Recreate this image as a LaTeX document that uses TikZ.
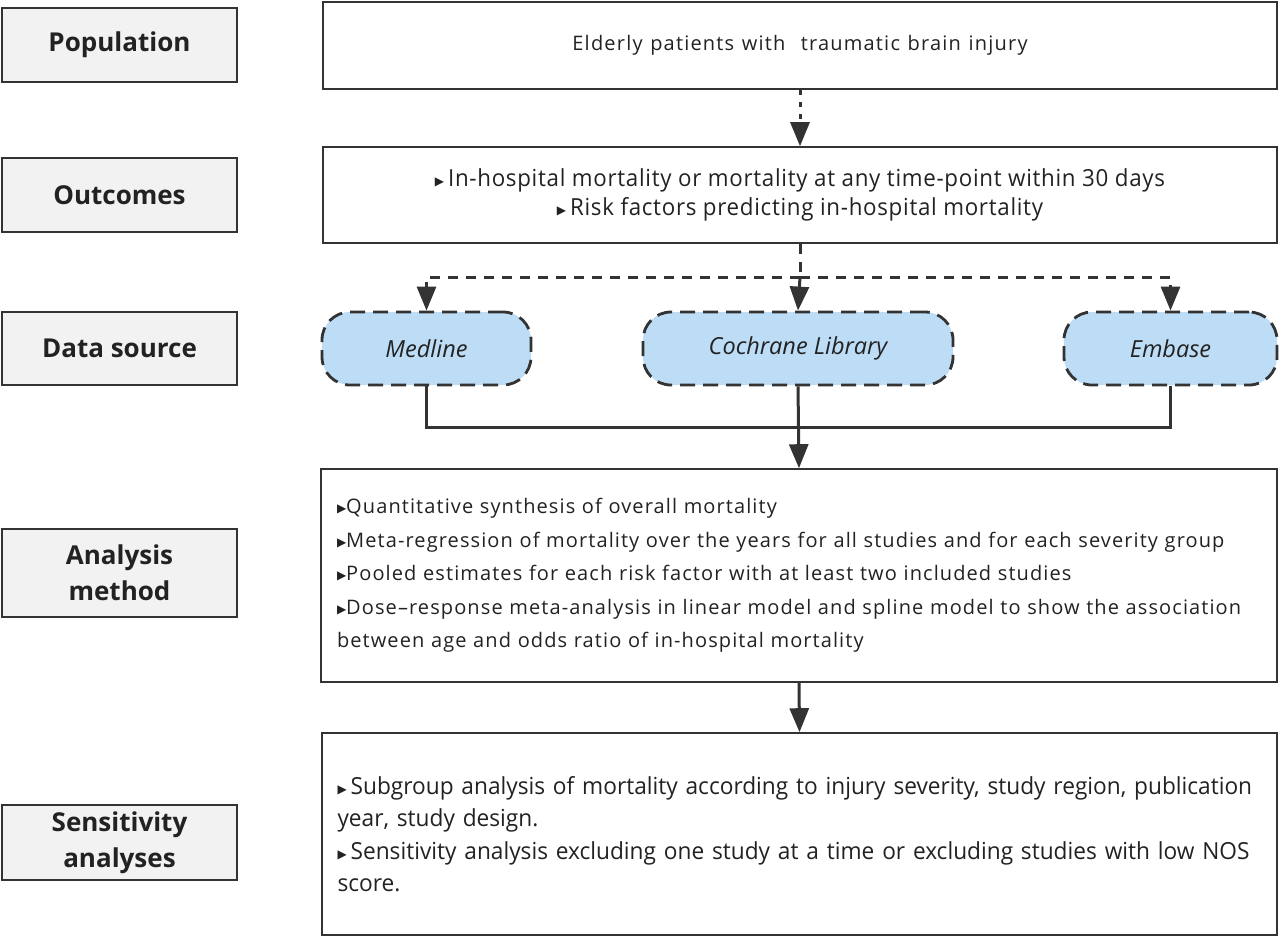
\documentclass[tikz,border=0pt]{standalone}
\usepackage{fontspec}
\setmainfont{Open Sans}
\newfontfamily\topfont[LetterSpace=6,WordSpace=1.2]{Open Sans}
\newfontfamily\anafont[LetterSpace=5.5,WordSpace=1.25]{Open Sans}
\newfontfamily\outfont[FakeStretch=0.95,LetterSpace=3]{Open Sans}
\newfontfamily\senfont[FakeStretch=0.965]{Open Sans}
\newfontfamily\bulletfont{DejaVu Sans}
\usetikzlibrary{arrows.meta}
\definecolor{lc}{HTML}{333333}
\definecolor{lblfill}{HTML}{F2F2F2}
\definecolor{pillfill}{HTML}{BDDCF5}
\definecolor{txt}{HTML}{222222}
\newcommand{\bul}{{\bulletfont\fontsize{12}{12}\selectfont\raisebox{1pt}{▶}}}
\begin{document}
\begin{tikzpicture}[x=1pt,y=-1pt,
  lbl/.style={draw=lc,line width=2.2pt,fill=lblfill,minimum width=235pt,
    text=txt,align=center,inner sep=0pt,
    font=\fontsize{26}{36}\selectfont\bfseries},
  mainbox/.style={draw=lc,line width=1.6pt,fill=white,inner sep=0pt,text=txt},
  pill/.style={draw=lc,line width=2.8pt,dash pattern=on 15pt off 8pt,fill=pillfill,
    rounded corners=28pt,inner sep=0pt,minimum height=73pt,text=txt,
    font=\fontsize{23.5}{23.5}\selectfont\itshape},
  conn/.style={draw=lc,line width=3pt},
  tip/.style={-{Triangle[length=24pt,width=19pt]}},
  dashconn/.style={conn,dash pattern=on 10pt off 8pt},
  dotconn/.style={conn,dash pattern=on 5pt off 7pt}
]
\useasboundingbox (0,0) rectangle (1280,938);

% left labels
\node[lbl,minimum height=74pt] (lpop) at (119.5,45) {Population};
\node[lbl,minimum height=74pt] (lout) at (119.5,195) {Outcomes};
\node[lbl,minimum height=73pt] (ldat) at (119.5,348.5) {Data source};
\node[lbl,minimum height=88pt] (lana) at (119.5,573) {Analysis\\method};
\node[lbl,minimum height=75pt] (lsen) at (119.5,842.5) {Sensitivity\\analyses};

% right column boxes
\node[mainbox,minimum width=954pt,minimum height=87pt,
  font=\topfont\fontsize{20}{24}\selectfont] (pop) at (800,45.5)
  {Elderly patients with\ \ traumatic brain injury};

\node[mainbox,minimum width=954pt,minimum height=96pt,align=center,
  font=\outfont\fontsize{23.5}{29}\selectfont] (out) at (800,195)
  {\bul\,In-hospital mortality or mortality at any time-point within 30 days\\
   \bul\,Risk factors predicting in-hospital mortality};

\node[pill,minimum width=209pt] (med) at (426.5,348.5) {Medline};
\node[pill,minimum width=310pt] (coch) at (798,348.5) {Cochrane Library};
\node[pill,minimum width=213pt] (emb) at (1170.5,348.5) {Embase};

\node[mainbox,minimum width=956pt,minimum height=213pt,align=left,
  text width=924pt,
  font=\anafont\fontsize{20}{33.5}\selectfont] (ana) at (799,575.5)
  {\bul Quantitative synthesis of overall mortality\\
   \bul Meta-regression of mortality over the years for all studies and for each severity group\\
   \bul Pooled estimates for each risk factor with at least two included studies\\
   \bul Dose–response meta-analysis in linear model and spline model to show the association\\
   between age and odds ratio of in-hospital mortality};

\node[mainbox,minimum width=955pt,minimum height=202pt,align=left,
  text width=924pt,
  font=\senfont\fontsize{23.5}{32.5}\selectfont] (sen) at (799.5,834)
  {\bul\,Subgroup analysis of mortality according to injury severity, study region, publication\\
   year, study design.\\
   \bul\,Sensitivity analysis excluding one study at a time or excluding studies with low NOS\\
   score.};

% connectors
\draw[dotconn,tip] (pop.south) -- (out.north);

\coordinate (dj) at (800,277);
\draw[dashconn] (out.south) -- (dj);
\draw[dashconn,tip] (dj) -| (med.north);
\draw[dashconn,tip] (dj) -| (emb.north);
\draw[dashconn,tip] (dj) -- (coch.north);

\coordinate (sj) at (798,427);
\draw[conn] (med.south) |- (sj);
\draw[conn] (emb.south) |- (sj);
\draw[conn,tip] (coch.south) -- (ana.north);

\draw[conn,tip] (ana.south) -- (sen.north);
\end{tikzpicture}
\end{document}
